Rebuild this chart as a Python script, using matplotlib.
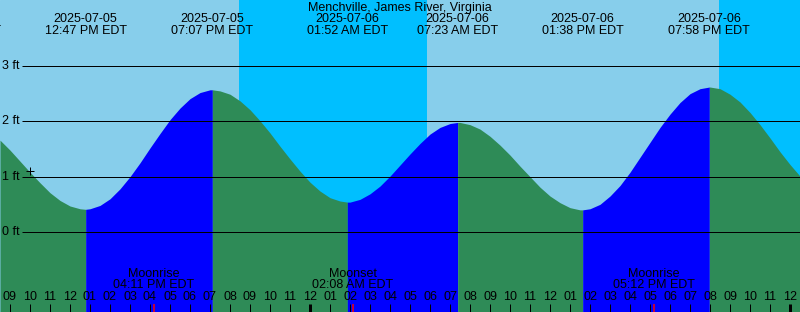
import numpy as np
import matplotlib
matplotlib.use("Agg")
import matplotlib.pyplot as plt

# ---------- DATA (hours since 2025-07-05 00:00 EDT, heights in ft) ----------
TITLE = "Menchville, James River, Virginia"

# tide curve every half hour, 08:30 Jul 5 .. 00:30 Jul 7
curve_t = np.arange(8.5, 48.51, 0.5)
curve_h = [1.66, 1.48, 1.28, 1.08, 0.89, 0.71, 0.57, 0.47, 0.42, 0.42,
           0.48, 0.60, 0.78, 1.00, 1.25, 1.52, 1.78, 2.03, 2.24, 2.41,
           2.52, 2.57, 2.55, 2.49, 2.37, 2.21, 2.01, 1.79, 1.55, 1.32,
           1.10, 0.90, 0.74, 0.62, 0.56, 0.54, 0.59, 0.69, 0.83, 1.01,
           1.21, 1.41, 1.60, 1.77, 1.89, 1.96, 1.98, 1.94, 1.86, 1.73,
           1.57, 1.39, 1.19, 1.00, 0.81, 0.65, 0.53, 0.44, 0.40, 0.42,
           0.50, 0.65, 0.84, 1.08, 1.35, 1.62, 1.89, 2.13, 2.34, 2.50,
           2.59, 2.62, 2.59, 2.49, 2.35, 2.16, 1.94, 1.70, 1.45, 1.22,
           1.01]

# high / low tide events
event_t = [6.55, 12.783, 19.117, 25.867, 31.383, 37.633, 43.967]
event_h = [2.00, 0.41, 2.57, 0.54, 1.98, 0.40, 2.62]
event_date = ["2025-07-05", "2025-07-05", "2025-07-05", "2025-07-06",
              "2025-07-06", "2025-07-06", "2025-07-06"]
event_time = ["06:33 AM EDT", "12:47 PM EDT", "07:07 PM EDT", "01:52 AM EDT",
              "07:23 AM EDT", "01:38 PM EDT", "07:58 PM EDT"]

# night (sunset .. sunrise)
night_start = [20.45, 44.45]
night_end = [29.83, 49.0]

# moon events
moon_t = [16.183, 26.133, 41.2]
moon_name = ["Moonrise", "Moonset", "Moonrise"]
moon_time = ["04:11 PM EDT", "02:08 AM EDT", "05:12 PM EDT"]

hours = np.arange(9, 49)
feet = [0, 1, 2, 3]
now_t, now_h = 10.0, 1.10

# ---------- STYLE ----------
DAY = "#87CEEB"
NIGHT = "#00BFFF"
FLOOD = "#0000FF"
EBB = "#2E8B57"
FONT = "Liberation Sans"
FS = 9
PX = 0.72  # one pixel in points


def xpx(p):
    return 8.5 + p / 20.0


def ypx(p):
    return (232.0 - p) / 55.33


fig = plt.figure(figsize=(8, 3.12), dpi=100)
ax = fig.add_axes([0, 0, 1, 1])
ax.set_xlim(xpx(0), xpx(800))
ax.set_ylim(ypx(312), ypx(0))
ax.axis("off")

ax.axvspan(xpx(0), xpx(800), color=DAY, zorder=0)
for s, e in zip(night_start, night_end):
    ax.axvspan(s, e, color=NIGHT, lw=0, zorder=0)

# merge curve samples with the extremes
all_t = np.concatenate([curve_t, event_t])
all_h = np.concatenate([curve_h, event_h])
order = np.argsort(all_t)
all_t, all_h = all_t[order], all_h[order]

bounds = [xpx(0)] + [t for t in event_t if xpx(0) < t < xpx(800)] + [xpx(800)]
for a, b in zip(bounds[:-1], bounds[1:]):
    m = (all_t >= a) & (all_t <= b)
    rising = np.interp(b, all_t, all_h) > np.interp(a, all_t, all_h)
    ax.fill_between(all_t[m], ypx(312), all_h[m], color=FLOOD if rising else EBB,
                    lw=0, zorder=1)

# foot lines and labels
ax.hlines(feet, xpx(22), xpx(800), color="black", lw=PX, zorder=2)
for f in feet:
    ax.text(xpx(2), f, f"{f} ft", ha="left", va="center", fontsize=FS,
            family=FONT, zorder=3)

ax.plot([now_t], [now_h], marker="+", color="black", ms=5.5, mew=PX, zorder=3)

# title and event labels
ax.text(xpx(400), ypx(7.5), TITLE, ha="center", va="center", fontsize=FS,
        family=FONT, zorder=3)
for t, d, tm in zip(event_t, event_date, event_time):
    ax.text(t, ypx(19.5), d, ha="center", va="center", fontsize=FS, family=FONT,
            zorder=3, clip_on=False)
    ax.text(t, ypx(31.5), tm, ha="center", va="center", fontsize=FS, family=FONT,
            zorder=3, clip_on=False)

# hour ticks
for h in hours:
    lab = (h - 1) % 12 + 1
    lw = 3 * PX if h % 24 == 0 else PX
    ax.vlines(h, ypx(312), ypx(304), color="black", lw=lw, zorder=2)
    ax.text(h, ypx(297.5), f"{lab:02d}", ha="center", va="center", fontsize=FS,
            family=FONT, zorder=3)

# moon events
for t, n, tm in zip(moon_t, moon_name, moon_time):
    ax.vlines(t, ypx(312), ypx(304), color="red", lw=1.5 * PX, zorder=2)
    ax.text(t, ypx(274), n, ha="center", va="center", fontsize=FS, family=FONT,
            zorder=3)
    ax.text(t, ypx(285.5), tm, ha="center", va="center", fontsize=FS, family=FONT,
            zorder=3)

fig.savefig("out.png", dpi=100)
